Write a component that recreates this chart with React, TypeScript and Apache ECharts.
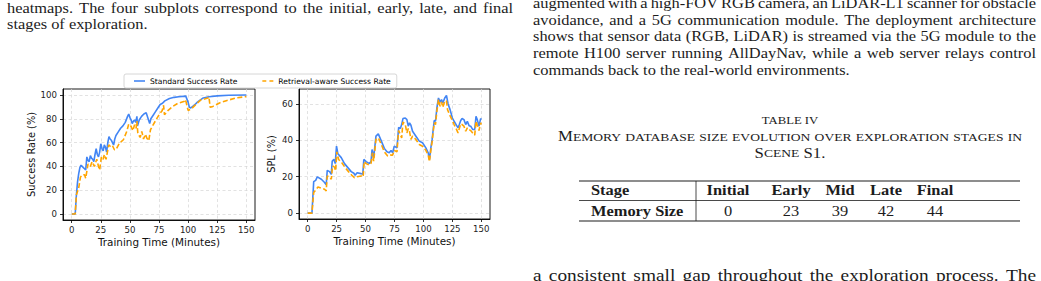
import React, { useEffect, useRef } from 'react';
import * as echarts from 'echarts';

const W = 1041;
const H = 281;
const SERIF = 'Liberation Serif';
const SANS = 'DejaVu Sans';
const SX = 1.18; // horizontal stretch of the page scan
const BLUE = '#4285F4';
const ORANGE = '#FFA500';
const INK = '#1c1c1c';

// ---------- chart data ----------
const xTicks = [0, 25, 50, 75, 100, 125, 150];
const srTicks = [0, 20, 40, 60, 80, 100];
const splTicks = [0, 20, 40, 60];
const seriesNames = ['Standard Success Rate', 'Retrieval-aware Success Rate'];

const standardSR: number[][] = [
  [0, 0], [3, 0], [4, 16], [5, 27], [6, 34], [7, 39], [8, 41], [9, 40], [10, 39], [11, 38], [12, 37],
  [13, 48], [14, 45], [15, 44], [16, 49], [17, 47], [18, 46], [19, 44], [20, 50], [21, 55], [22, 50],
  [23, 48], [24, 52], [25, 59], [26, 55], [27, 53], [28, 58], [29, 56], [30, 52], [31, 60], [32, 65],
  [33, 63], [34, 62], [35, 60], [36, 58], [37, 63], [38, 66], [40, 69], [42, 72], [44, 74], [46, 77],
  [48, 82], [49, 84], [50, 81], [51, 79], [52, 76], [53, 78], [54, 79], [55, 77], [56, 82], [56.5, 74],
  [58, 79], [60, 82], [62, 84], [64, 85], [66, 79], [67, 76], [68, 80], [70, 83], [72, 86], [74, 89],
  [76, 92], [78, 93], [80, 95], [84, 97], [88, 98], [92, 98.5], [98, 99], [100, 94], [101, 90],
  [102, 89], [104, 90.5], [106, 92], [108, 94], [110, 95.5], [113, 97.5], [118, 98.5], [125, 99.2],
  [135, 99.7], [150, 100],
];

const retrievalSR: number[][] = [
  [0, 0], [3, 0], [4, 16], [6, 22], [7.5, 31], [9, 33], [11, 33], [12, 30], [13, 36], [14, 42],
  [16, 40], [17.5, 44], [19.5, 40], [21.5, 46], [23, 40], [24, 37], [25.5, 48], [27, 46], [28, 50],
  [29.5, 46], [31.8, 58], [33, 57], [34.7, 58], [36.7, 54], [38, 54], [41, 59.5], [44.4, 62.4],
  [47.3, 69.4], [49, 75.6], [51, 73.6], [52.5, 70], [54, 75], [55.3, 72], [56, 78], [56.8, 68],
  [58.8, 64.3], [60.2, 69.4], [61.7, 63], [63.4, 67], [64.5, 63.8], [66.2, 61.5], [67.7, 70.8],
  [69.7, 74.4], [72.5, 79.2], [75.4, 84], [77.7, 86.8], [78.9, 91.3], [79.7, 83.4], [82.6, 86.8],
  [86.9, 90.4], [91.2, 93], [97, 94.7], [97.8, 96], [100, 87], [102.7, 88.2], [107, 92.4],
  [111.3, 96], [114.1, 96.6], [117, 97.5], [117.9, 98.3], [119, 89.6], [121.3, 90.4], [127, 93.3],
  [132.8, 95.2], [141.4, 97.5], [150, 98.6],
];

const standardSPL: number[][] = [
  [0, 0], [3.7, 0], [5.2, 17.3], [6.9, 18], [8.3, 19.9], [11.8, 18.6], [14.6, 16.8], [16, 15.5],
  [16.9, 23.5], [18.9, 22.8], [20.4, 21.3], [21.2, 28.6], [22.7, 29.5], [23.8, 27.2], [24.9, 36.8],
  [26.1, 32.6], [29, 30.5], [31.8, 27.2], [34.7, 25], [37.6, 22.8], [39.9, 21.9], [41, 20.8],
  [42.7, 22.2], [46.2, 21.7], [47.6, 21.3], [48.5, 29.5], [50.5, 28.3], [53.3, 27.2], [54.8, 28.6],
  [55.6, 35], [57, 30.5], [59, 42.3], [61, 43.6], [63.4, 40], [66.2, 35.6], [68.5, 33.7], [70.5, 33.2],
  [72, 34.5], [73.4, 33.2], [74.8, 36.8], [77.1, 35.9], [78.6, 47.2], [80, 46.5], [81.2, 48.7],
  [82.3, 52], [84.3, 52.3], [85.7, 51.4], [86.9, 47.8], [88, 49.6], [89.2, 48.3], [90.6, 45],
  [93.5, 42.3], [96.4, 39.6], [99.2, 38.7], [102.1, 35.9], [104.1, 33.2], [105.2, 29.5], [106.4, 35.9],
  [107.5, 40.5], [109.3, 50.9], [110.4, 50.5], [111.6, 57.8], [113, 63.3], [114.4, 61.1], [115.6, 62.4],
  [116.7, 60.5], [118.4, 63.3], [119.9, 64.7], [121.3, 60], [123, 56.9], [125, 52.3], [126.5, 50.5],
  [128.2, 48.7], [129.9, 46.9], [131, 48.7], [132.2, 50.9], [133.4, 52], [135, 51.4], [136.5, 48.7],
  [137.9, 50.5], [139.4, 48.1], [140.8, 47.8], [142.5, 46], [144.3, 46], [145.4, 53.2], [146.5, 51.4],
  [148, 47.8], [149.4, 52], [150, 51.4],
];

const retrievalSPL: number[][] = [
  [0, 0], [3.7, 0], [5.2, 11.3], [7.5, 13.1], [8.9, 14.4], [11.8, 13.7], [14.6, 13.1], [16, 12.2],
  [16.9, 20.4], [18.9, 19.9], [20.4, 18.6], [21.5, 25.9], [23.2, 25.3], [24.1, 23.2], [25.2, 33.7],
  [26.7, 29.5], [29.5, 27.7], [32.4, 25], [35.3, 22.8], [38.1, 20.8], [40.4, 19.5], [42.7, 20],
  [46.2, 20.4], [47.9, 19.9], [48.8, 28.3], [50.5, 27.2], [53.3, 26.4], [54.8, 27.5], [55.9, 33.2],
  [57, 28.6], [59, 40.5], [61, 41.4], [63.4, 38.1], [66.2, 33.7], [69.1, 31.4], [71.4, 31.9],
  [73.4, 31.9], [74.8, 34.5], [77.1, 33.7], [78.6, 45.4], [80, 43.2], [81.2, 41.4], [82.3, 50.1],
  [84.3, 48.7], [85.7, 44.1], [86.9, 46.5], [88, 45], [89.2, 40.5], [90.6, 42.3], [93.5, 40.5],
  [96.4, 37.7], [99.2, 36.8], [102.1, 34.5], [104.1, 31.9], [105.2, 28.3], [106.4, 34.5], [107.5, 39.2],
  [109.3, 49.6], [110.4, 48.7], [111.6, 56], [113, 62.4], [114.4, 58.7], [115.6, 61.1], [116.7, 58.2],
  [118.4, 61.5], [119.9, 61.8], [120.8, 56.9], [122.5, 54.2], [125, 50.9], [126.5, 48.7], [128.2, 46.5],
  [129.9, 44.1], [131, 46.5], [132.2, 49.1], [133.4, 48.7], [135, 47.8], [136.5, 45], [137.9, 46.9],
  [139.4, 46], [140.8, 45.4], [142.5, 44.1], [144.3, 42.9], [145.4, 50.5], [146.5, 48.3], [148, 45.4],
  [149.4, 49.6], [150, 48.7],
];

// ---------- table data ----------
const tableStages = ['Initial', 'Early', 'Mid', 'Late', 'Final'];
const memorySizes = [0, 23, 39, 42, 44];

// ---------- page text ----------
const leftJustified = ['heatmaps. The four subplots correspond to the initial, early, late, and final'];
const leftLast = 'stages of exploration.';
const rightJustified = [
  'augmented with a high-FOV RGB camera, an LiDAR-L1 scanner for obstacle',
  'avoidance, and a 5G communication module. The deployment architecture',
  'shows that sensor data (RGB, LiDAR) is streamed via the 5G module to the',
  'remote H100 server running AllDayNav, while a web server relays control',
];
const rightLast = 'commands back to the real-world environments.';
const bottomLine = 'a consistent small gap throughout the exploration process. The';
const tableTitle = 'TABLE IV';
const tableCaption = ['Memory database size evolution over exploration stages in', 'Scene S1.'];

// ---------- helpers ----------
let ctx: CanvasRenderingContext2D | null = null;
function measure(text: string, size: number, weight = 'normal', family = SERIF) {
  if (!ctx) ctx = document.createElement('canvas').getContext('2d');
  ctx!.font = `${weight} ${size}px "${family}"`;
  return ctx!.measureText(text).width;
}

function txt(s: string, x: number, baseline: number, size: number, o: any = {}) {
  return {
    type: 'text',
    x,
    y: baseline - 0.3375 * size,
    scaleX: o.sx ?? SX,
    silent: true,
    style: {
      text: s,
      fontSize: size,
      fontFamily: SERIF,
      fontWeight: o.weight || 'normal',
      fill: INK,
      textAlign: o.align || 'left',
      textVerticalAlign: 'middle',
    },
  };
}

function justify(line: string, x0: number, x1: number, baseline: number, size: number) {
  const words = line.split(' ');
  const widths = words.map((w) => measure(w, size) * SX);
  const total = widths.reduce((a, b) => a + b, 0);
  const gap = (x1 - x0 - total) / (words.length - 1);
  let x = x0;
  return words.map((w, i) => {
    const el = txt(w, x, baseline, size);
    x += widths[i] + gap;
    return el;
  });
}

function capsRuns(str: string, big: number, small: number) {
  const runs: { t: string; size: number }[] = [];
  for (const ch of str) {
    const lower = ch !== ch.toUpperCase();
    const t = lower ? ch.toUpperCase() : ch;
    const size = lower ? small : big;
    if (runs.length && runs[runs.length - 1].size === size) runs[runs.length - 1].t += t;
    else runs.push({ t, size });
  }
  return runs;
}

function capsWidth(str: string, big: number, small: number) {
  return capsRuns(str, big, small).reduce((a, r) => a + measure(r.t, r.size), 0);
}

function smallCaps(str: string, cx: number, baseline: number, big: number, small: number, sx: number) {
  const runs = capsRuns(str, big, small);
  const widths = runs.map((r) => measure(r.t, r.size) * sx);
  const total = widths.reduce((a, b) => a + b, 0);
  let x = cx - total / 2;
  return runs.map((r, i) => {
    const el = txt(r.t, x, baseline, r.size, { sx });
    x += widths[i];
    return el;
  });
}

function hline(x1: number, x2: number, y: number, w: number) {
  return { type: 'line', silent: true, shape: { x1, y1: y, x2, y2: y }, style: { stroke: INK, lineWidth: w } };
}

function buildGraphics() {
  const g: any[] = [];
  const BODY = 13.9;
  const LH = 16.6;
  // left column
  leftJustified.forEach((l, i) => g.push(...justify(l, 7, 513, 12.5 + i * LH, BODY)));
  g.push(txt(leftLast, 7, 12.5 + leftJustified.length * LH, BODY));
  // right column
  rightJustified.forEach((l, i) => g.push(...justify(l, 533, 1036, 7.8 + i * LH, BODY)));
  g.push(txt(rightLast, 533, 7.8 + rightJustified.length * LH, BODY));
  g.push(...justify(bottomLine, 533, 1036, 281.5, 16.4));
  // table caption (small caps fitted to the width measured on the page)
  const CX = 790;
  const BIG = 13.6;
  const SMALL = 11.0;
  const capSX = 464 / capsWidth(tableCaption[0], BIG, SMALL);
  g.push(txt(tableTitle, CX, 124, 10.8, { align: 'center' }));
  tableCaption.forEach((c, i) => g.push(...smallCaps(c, CX, 141 + i * 16.2, BIG, SMALL, capSX)));
  // table
  const TL = 579, TR = 1020, VX = 696;
  const top = 181, mid = 200.5, bot = 221;
  g.push(hline(TL, TR, top, 1.1), hline(TL, TR, mid, 0.8), hline(TL, TR, bot, 1.1));
  g.push({ type: 'line', silent: true, shape: { x1: VX, y1: top, x2: VX, y2: bot }, style: { stroke: INK, lineWidth: 0.8 } });
  const colX = [728, 791, 840, 886, 935];
  const hb = 195, rb = 216;
  g.push(txt('Stage', 591, hb, BODY, { weight: 'bold' }));
  g.push(txt('Memory Size', 591, rb, BODY, { weight: 'bold' }));
  tableStages.forEach((s, i) => g.push(txt(s, colX[i], hb, BODY, { weight: 'bold', align: 'center' })));
  memorySizes.forEach((v, i) => g.push(txt(String(v), colX[i], rb, BODY, { align: 'center' })));
  return g;
}

function axisCommon(ticks: number[]) {
  return {
    type: 'value',
    axisLine: { show: true, onZero: false, lineStyle: { color: '#000', width: 0.9 } },
    axisTick: { show: true, customValues: ticks, length: 3, lineStyle: { color: '#000', width: 0.8 } },
    axisLabel: { customValues: ticks, fontFamily: SANS, fontSize: 8.6, color: '#222' },
    splitLine: { show: true, lineStyle: { color: '#d6d6d6', width: 0.7, type: [3, 2.5] } },
    nameLocation: 'middle',
    nameTextStyle: { fontFamily: SANS, color: '#111' },
  };
}

function lineSeries(name: string, data: number[][], idx: number, dashed: boolean) {
  const color = dashed ? ORANGE : BLUE;
  return {
    type: 'line',
    name,
    data,
    xAxisIndex: idx,
    yAxisIndex: idx,
    symbol: 'none',
    showSymbol: false,
    silent: true,
    itemStyle: { color },
    lineStyle: { color, width: 1.6, type: dashed ? [5, 2.5] : 'solid' },
  };
}

function buildOption() {
  return {
    animation: false,
    backgroundColor: '#fff',
    legend: {
      data: [
        { name: seriesNames[0], icon: 'path://M0,0H14V2H0Z' },
        { name: seriesNames[1], icon: 'path://M0,0H5V2H0Z M9,0H14V2H9Z' },
      ],
      left: 124,
      top: 74,
      itemWidth: 11,
      itemHeight: 1.6,
      itemGap: 25,
      padding: [3, 6, 3, 10],
      borderColor: '#cccccc',
      borderWidth: 0.8,
      borderRadius: 2,
      backgroundColor: '#fff',
      selectedMode: false,
      textStyle: { fontFamily: SANS, fontSize: 7.6, color: '#000' },
    },
    grid: [
      { left: 63, top: 89, width: 192, height: 131, show: true, borderColor: '#000', borderWidth: 0.9, backgroundColor: 'transparent' },
      { left: 299, top: 89, width: 191, height: 130, show: true, borderColor: '#000', borderWidth: 0.9, backgroundColor: 'transparent' },
    ],
    xAxis: [0, 1].map((i) => ({
      ...axisCommon(xTicks),
      gridIndex: i,
      min: -7.5,
      max: 157.5,
      name: 'Training Time (Minutes)',
      nameGap: 17,
      nameTextStyle: { fontFamily: SANS, fontSize: 10.4, color: '#111' },
      axisLabel: { ...axisCommon(xTicks).axisLabel, margin: 5 },
    })),
    yAxis: [
      {
        ...axisCommon(srTicks),
        gridIndex: 0,
        min: -5,
        max: 105,
        name: 'Success Rate (%)',
        nameGap: 26,
        nameTextStyle: { fontFamily: SANS, fontSize: 9.8, color: '#111' },
        axisLabel: { ...axisCommon(srTicks).axisLabel, margin: 6 },
      },
      {
        ...axisCommon(splTicks),
        gridIndex: 1,
        min: -3.25,
        max: 68.25,
        name: 'SPL (%)',
        nameGap: 23,
        nameTextStyle: { fontFamily: SANS, fontSize: 9.8, color: '#111' },
        axisLabel: { ...axisCommon(splTicks).axisLabel, margin: 6 },
      },
    ],
    series: [
      lineSeries(seriesNames[0], standardSR, 0, false),
      lineSeries(seriesNames[1], retrievalSR, 0, true),
      lineSeries(seriesNames[0], standardSPL, 1, false),
      lineSeries(seriesNames[1], retrievalSPL, 1, true),
    ],
    graphic: buildGraphics(),
  };
}

export default function App() {
  const ref = useRef<HTMLDivElement>(null);
  useEffect(() => {
    document.body.style.margin = '0';
    const chart = echarts.init(ref.current!, null, { renderer: 'svg', width: W, height: H });
    chart.setOption(buildOption() as any);
    return () => chart.dispose();
  }, []);
  return <div ref={ref} style={{ width: W, height: H }} />;
}
